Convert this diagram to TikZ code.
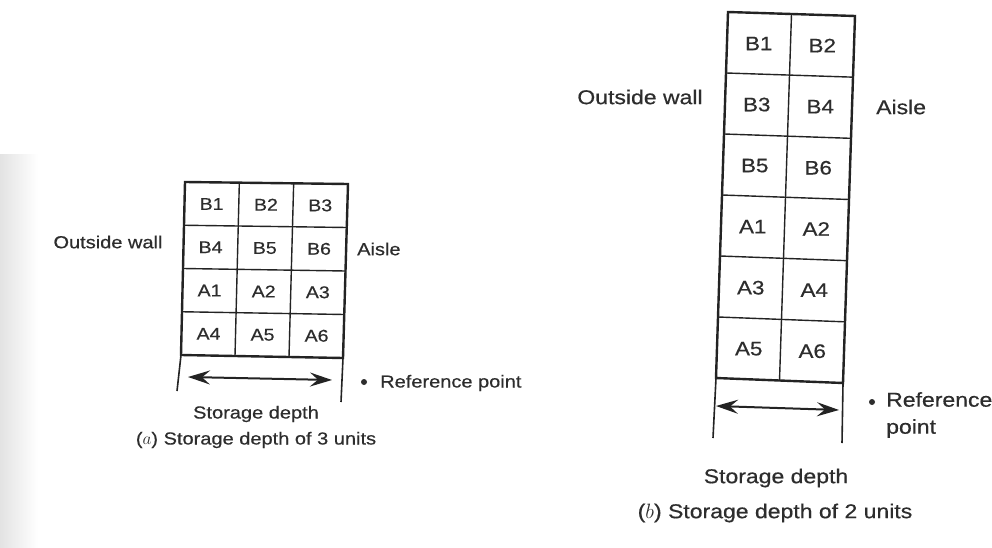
\documentclass[tikz,border=0pt]{standalone}
\usepackage{fontspec}
\setmainfont[FakeStretch=1.15,FakeBold=0.5]{Liberation Sans}
\usetikzlibrary{calc,arrows.meta}
\definecolor{ink}{RGB}{35,35,35}
\definecolor{txt}{RGB}{45,45,45}
\tikzset{
  lbla/.style={font=\fontsize{17.4}{21}\selectfont, text=txt, inner sep=0pt},
  lblb/.style={font=\fontsize{20}{27}\selectfont, text=txt, inner sep=0pt},
  cella/.style={font=\fontsize{17}{20}\selectfont, text=txt, inner sep=0pt},
  cellb/.style={font=\fontsize{19.5}{23}\selectfont, text=txt, inner sep=0pt},
  outer/.style={draw=ink, line width=2.4pt, line join=miter},
  inner/.style={draw=ink, line width=1.4pt},
  extline/.style={draw=ink, line width=1.6pt},
  dimarrow/.style={draw=ink, line width=2pt,
    {Stealth[length=22pt,width=14pt,inset=8pt]}-{Stealth[length=22pt,width=14pt,inset=8pt]}},
  refdot/.style={circle, fill=txt, inner sep=0pt, minimum size=6pt}
}
\begin{document}
\begin{tikzpicture}[x=1pt,y=-1pt]
\useasboundingbox (0,0) rectangle (992,548);
\fill[white] (0,0) rectangle (992,548);
% scanned gutter on the left
\shade[left color=gray!22, right color=white] (0,155) rectangle (38,548);

% ---------------- (a) storage depth of 3 units ----------------
\coordinate (aTL) at (185,182);
\coordinate (aTR) at (348,184);
\coordinate (aBL) at (181,355);
\coordinate (aBR) at (343,358);
\foreach \r in {1,2,3}{
  \draw[inner] ($(aTL)!{\r/4}!(aBL)$) -- ($(aTR)!{\r/4}!(aBR)$);
}
\foreach \c in {1,2}{
  \draw[inner] ($(aTL)!{\c/3}!(aTR)$) -- ($(aBL)!{\c/3}!(aBR)$);
}
\draw[outer] (aTL) -- (aTR) -- (aBR) -- (aBL) -- cycle;
\foreach \lab [count=\i from 0] in {B1,B2,B3,B4,B5,B6,A1,A2,A3,A4,A5,A6}{
  \pgfmathtruncatemacro{\cc}{mod(\i,3)}
  \pgfmathtruncatemacro{\rr}{int(\i/3)}
  \coordinate (tt) at ($(aTL)!{(\cc+0.5)/3}!(aTR)$);
  \coordinate (bb) at ($(aBL)!{(\cc+0.5)/3}!(aBR)$);
  \node[cella] (a\lab) at ($(tt)!{(\rr+0.5)/4}!(bb)$) {\lab};
}
\coordinate (aLext) at (177,391);
\coordinate (aRext) at (341,402);
\draw[extline] (aBL) -- (aLext);
\draw[extline] (aBR) -- (aRext);
\coordinate (aArrL) at (188,377);
\coordinate (aArrR) at (332,380);
\draw[dimarrow] (aArrL) -- (aArrR);

\node[lbla] (aWall) at (108,242) {Outside wall};
\node[lbla, anchor=west] (aAisle) at (357,249) {Aisle};
\node[refdot] (aDot) at (364,382) {};
\node[lbla, anchor=west] (aRef) at (380,383) {Reference point};
\node[lbla] (aDepth) at (256,414) {Storage depth};
\node[lbla] (aCap) at (256,440) {($a$) Storage depth of 3 units};

% ---------------- (b) storage depth of 2 units ----------------
\coordinate (bTL) at (728,12);
\coordinate (bTR) at (855,16);
\coordinate (bBL) at (716,378);
\coordinate (bBR) at (843,383);
\foreach \r in {1,...,5}{
  \draw[inner] ($(bTL)!{\r/6}!(bBL)$) -- ($(bTR)!{\r/6}!(bBR)$);
}
\draw[inner] ($(bTL)!0.5!(bTR)$) -- ($(bBL)!0.5!(bBR)$);
\draw[outer] (bTL) -- (bTR) -- (bBR) -- (bBL) -- cycle;
\foreach \lab [count=\i from 0] in {B1,B2,B3,B4,B5,B6,A1,A2,A3,A4,A5,A6}{
  \pgfmathtruncatemacro{\cc}{mod(\i,2)}
  \pgfmathtruncatemacro{\rr}{int(\i/2)}
  \coordinate (tt) at ($(bTL)!{(\cc+0.5)/2}!(bTR)$);
  \coordinate (bb) at ($(bBL)!{(\cc+0.5)/2}!(bBR)$);
  \node[cellb] (b\lab) at ($(tt)!{(\rr+0.5)/6}!(bb)$) {\lab};
}
\coordinate (bLext) at (713,438);
\coordinate (bRext) at (842,443);
\draw[extline] (bBL) -- (bLext);
\draw[extline] (bBR) -- (bRext);
\coordinate (bArrL) at (716,406);
\coordinate (bArrR) at (839,410);
\draw[dimarrow] (bArrL) -- (bArrR);

\node[lblb] (bWall) at (640,97) {Outside wall};
\node[lblb, anchor=west] (bAisle) at (876,107) {Aisle};
\node[refdot] (bDot) at (872,402) {};
\node[lblb, anchor=north west, align=left] (bRef) at (886,392) {Reference\\point};
\node[lblb] (bDepth) at (776,478) {Storage depth};
\node[lblb] (bCap) at (775,513) {($b$) Storage depth of 2 units};
\end{tikzpicture}
\end{document}
